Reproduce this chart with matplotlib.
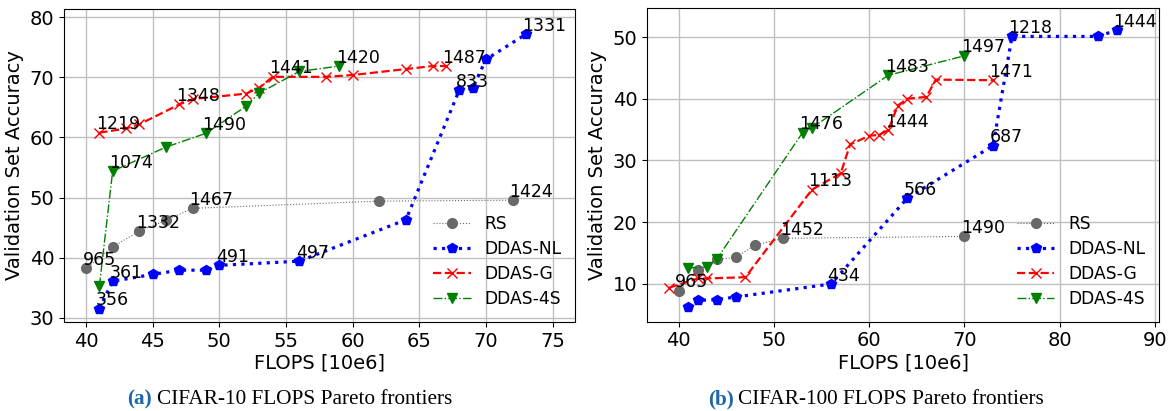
import matplotlib
matplotlib.use("Agg")
import matplotlib.pyplot as plt

plt.rcParams["font.family"] = ["DejaVu Sans"]

# ---------------- CIFAR-10 data ----------------
c10_rs_x = [40, 42, 44, 46, 48, 62, 72]
c10_rs_y = [38.2, 41.8, 44.4, 46.2, 48.2, 49.4, 49.55]
c10_nl_x = [41, 42, 45, 47, 49, 50, 56, 64, 68, 69, 70, 73]
c10_nl_y = [31.5, 36.05, 37.2, 37.9, 37.9, 38.7, 39.4, 46.3, 67.9, 68.2, 73.0, 77.2]
c10_g_x = [41, 43, 44, 47, 48, 52, 53, 54, 58, 60, 64, 66, 67]
c10_g_y = [60.8, 61.5, 62.2, 65.5, 66.4, 67.3, 68.3, 70.1, 70.1, 70.4, 71.4, 71.9, 71.9]
c10_4s_x = [41, 42, 46, 49, 52, 53, 56, 59]
c10_4s_y = [35.2, 54.4, 58.4, 60.7, 65.2, 67.4, 71.0, 71.9]
# (series, x, y, label)
c10_labels = [
    ("RS", 40, 38.2, "965"), ("RS", 44, 44.4, "1332"), ("RS", 48, 48.2, "1467"),
    ("RS", 72, 49.55, "1424"),
    ("NL", 41, 31.5, "356"), ("NL", 42, 36.05, "361"), ("NL", 50, 38.7, "491"),
    ("NL", 56, 39.4, "497"), ("NL", 68, 67.9, "833"), ("NL", 73, 77.2, "1331"),
    ("G", 41, 60.8, "1219"), ("G", 47, 65.5, "1348"), ("G", 54, 70.1, "1441"),
    ("G", 67, 71.9, "1487"),
    ("4S", 42, 54.4, "1074"), ("4S", 49, 60.7, "1490"), ("4S", 59, 71.9, "1420"),
]

# ---------------- CIFAR-100 data ----------------
c100_rs_x = [40, 42, 44, 46, 48, 51, 70]
c100_rs_y = [8.9, 12.2, 14.0, 14.3, 16.3, 17.4, 17.7]
c100_nl_x = [41, 42, 44, 46, 56, 64, 73, 75, 84, 86]
c100_nl_y = [6.2, 7.35, 7.45, 7.9, 10.0, 23.9, 32.4, 50.1, 50.1, 51.1]
c100_g_x = [39, 42, 43, 47, 54, 57, 58, 60, 61, 62, 63, 64, 66, 67, 73]
c100_g_y = [9.4, 10.9, 10.9, 11.1, 25.3, 27.9, 32.6, 34.0, 34.15, 34.9, 38.9, 40.0, 40.3, 43.1, 43.0]
c100_4s_x = [41, 43, 44, 53, 54, 62, 70]
c100_4s_y = [12.6, 12.75, 14.05, 34.5, 35.3, 43.8, 46.95]
c100_labels = [
    ("RS", 40, 8.9, "965"), ("RS", 51, 17.4, "1452"), ("RS", 70, 17.7, "1490"),
    ("NL", 56, 10.0, "434"), ("NL", 64, 23.9, "566"), ("NL", 73, 32.4, "687"),
    ("NL", 75, 50.1, "1218"), ("NL", 86, 51.1, "1444"),
    ("G", 54, 25.3, "1113"), ("G", 62, 34.9, "1444"), ("G", 73, 43.0, "1471"),
    ("4S", 53, 34.5, "1476"), ("4S", 62, 43.8, "1483"), ("4S", 70, 46.95, "1497"),
]

W, H = 1173, 411
fig = plt.figure(figsize=(W / 100, H / 100), dpi=100)
fig.patch.set_facecolor("white")


def px_rect(l, t, r, b):
    return [l / W, 1 - b / H, (r - l) / W, (b - t) / H]


def draw(ax, rs, nl, g, s4, labels, xlim, ylim, xticks, yticks):
    ax.plot(rs[0], rs[1], color="dimgray", marker="o", markersize=7,
            linestyle=":", linewidth=0.8, label="RS", zorder=3)
    ax.plot(nl[0], nl[1], color="blue", marker="p", markersize=7.5,
            linestyle=":", linewidth=2.3, label="DDAS-NL", zorder=3)
    ax.plot(g[0], g[1], color="red", marker="x", markersize=7.5,
            linestyle="--", linewidth=1.6, label="DDAS-G", zorder=3)
    ax.plot(s4[0], s4[1], color="green", marker="v", markersize=7.5,
            linestyle="-.", linewidth=1.0, label="DDAS-4S", zorder=3)
    for _, x, y, t in labels:
        ax.annotate(t, (x, y), xytext=(-2.5, 2.5), textcoords="offset points",
                    fontsize=12.5, ha="left", va="baseline", zorder=4)
    ax.set_xlim(*xlim)
    ax.set_ylim(*ylim)
    ax.set_xticks(xticks)
    ax.set_yticks(yticks)
    ax.tick_params(labelsize=14)
    ax.grid(True, color="#c0c0c0", linewidth=1.0)
    ax.set_axisbelow(True)
    ax.set_xlabel("FLOPS [10e6]", fontsize=14, labelpad=2)
    ax.set_ylabel("Validation Set Accuracy", fontsize=14, labelpad=4)
    ax.legend(loc="lower right", frameon=False, fontsize=12.3,
              labelspacing=0.42, handlelength=2.2, borderaxespad=0.4)


ax1 = fig.add_axes(px_rect(64, 9, 575, 322))
draw(ax1, (c10_rs_x, c10_rs_y), (c10_nl_x, c10_nl_y), (c10_g_x, c10_g_y),
     (c10_4s_x, c10_4s_y), c10_labels, (38.35, 76.68), (29.27, 81.4),
     [40, 45, 50, 55, 60, 65, 70, 75], [30, 40, 50, 60, 70, 80])

ax2 = fig.add_axes(px_rect(647.3, 8, 1158.7, 321.7))
draw(ax2, (c100_rs_x, c100_rs_y), (c100_nl_x, c100_nl_y), (c100_g_x, c100_g_y),
     (c100_4s_x, c100_4s_y), c100_labels, (36.7, 90.4), (3.89, 54.7),
     [40, 50, 60, 70, 80, 90], [10, 20, 30, 40, 50])

cap_y = 1 - 404 / H
serif = ["Liberation Serif", "DejaVu Serif"]
capblue = "#1f66a6"
cap_fs = 15.3
fig.text(127.5 / W, cap_y, "(a)", family=serif, fontsize=cap_fs, fontweight="bold",
         color=capblue, ha="left", va="baseline")
fig.text(157.3 / W, cap_y, "CIFAR-10 FLOPS Pareto frontiers", family=serif,
         fontsize=cap_fs, color="black", ha="left", va="baseline")
fig.text(708.3 / W, cap_y, "(b)", family=serif, fontsize=cap_fs, fontweight="bold",
         color=capblue, ha="left", va="baseline")
fig.text(738.3 / W, cap_y, "CIFAR-100 FLOPS Pareto frontiers", family=serif,
         fontsize=cap_fs, color="black", ha="left", va="baseline")

fig.savefig("out.png", dpi=100, facecolor="white")
